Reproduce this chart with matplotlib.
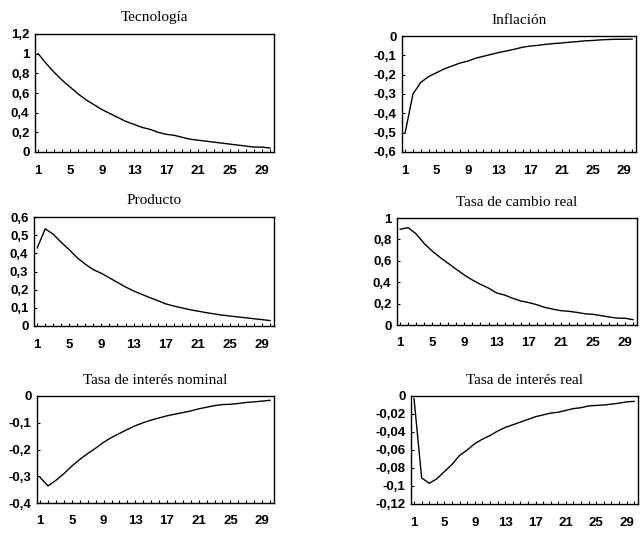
import numpy as np
import matplotlib.pyplot as plt

periods = np.arange(1, 31)

tecnologia = [1.00, 0.90, 0.81, 0.73, 0.66, 0.59, 0.53, 0.48, 0.43, 0.39,
              0.35, 0.31, 0.28, 0.25, 0.23, 0.20, 0.18, 0.17, 0.15, 0.13,
              0.12, 0.11, 0.10, 0.09, 0.08, 0.07, 0.06, 0.05, 0.05, 0.04]
inflacion = [-0.50, -0.30, -0.24, -0.21, -0.19, -0.17, -0.155, -0.14, -0.13, -0.115,
             -0.105, -0.095, -0.085, -0.077, -0.068, -0.058, -0.052, -0.048, -0.043, -0.039,
             -0.036, -0.032, -0.029, -0.025, -0.023, -0.02, -0.018, -0.017, -0.017, -0.016]
producto = [0.43, 0.535, 0.505, 0.46, 0.42, 0.375, 0.34, 0.31, 0.29, 0.265,
            0.24, 0.215, 0.193, 0.175, 0.157, 0.14, 0.122, 0.11, 0.10, 0.09,
            0.082, 0.074, 0.067, 0.06, 0.055, 0.05, 0.045, 0.04, 0.035, 0.03]
tasa_cambio = [0.895, 0.91, 0.85, 0.76, 0.69, 0.63, 0.575, 0.52, 0.466, 0.42,
               0.38, 0.345, 0.30, 0.28, 0.25, 0.225, 0.21, 0.19, 0.165, 0.148,
               0.134, 0.128, 0.118, 0.105, 0.10, 0.088, 0.075, 0.065, 0.063, 0.05]
interes_nominal = [-0.305, -0.336, -0.315, -0.29, -0.262, -0.237, -0.215, -0.195, -0.173, -0.155,
                   -0.14, -0.125, -0.111, -0.10, -0.09, -0.082, -0.074, -0.068, -0.062, -0.056,
                   -0.048, -0.042, -0.036, -0.032, -0.031, -0.028, -0.024, -0.022, -0.019, -0.016]
interes_real = [-0.003, -0.091, -0.097, -0.092, -0.084, -0.076, -0.066, -0.06, -0.053, -0.048,
                -0.044, -0.039, -0.035, -0.032, -0.029, -0.026, -0.023, -0.021, -0.019, -0.018,
                -0.016, -0.014, -0.013, -0.011, -0.0105, -0.01, -0.009, -0.008, -0.0065, -0.006]

titles = ['Tecnología', 'Inflación', 'Producto', 'Tasa de cambio real',
          'Tasa de interés nominal', 'Tasa de interés real']
series = [tecnologia, inflacion, producto, tasa_cambio, interes_nominal, interes_real]

y_ticks = [
    [0, 0.2, 0.4, 0.6, 0.8, 1.0, 1.2],
    [-0.6, -0.5, -0.4, -0.3, -0.2, -0.1, 0],
    [0, 0.1, 0.2, 0.3, 0.4, 0.5, 0.6],
    [0, 0.2, 0.4, 0.6, 0.8, 1.0],
    [-0.4, -0.3, -0.2, -0.1, 0],
    [-0.12, -0.1, -0.08, -0.06, -0.04, -0.02, 0],
]
y_labels = [
    ['0', '0,2', '0,4', '0,6', '0,8', '1', '1,2'],
    ['-0,6', '-0,5', '-0,4', '-0,3', '-0,2', '-0,1', '0'],
    ['0', '0,1', '0,2', '0,3', '0,4', '0,5', '0,6'],
    ['0', '0,2', '0,4', '0,6', '0,8', '1'],
    ['-0,4', '-0,3', '-0,2', '-0,1', '0'],
    ['-0,12', '-0,1', '-0,08', '-0,06', '-0,04', '-0,02', '0'],
]
x_labels = [1, 5, 9, 13, 17, 21, 25, 29]

# axes boxes in pixels: left, top, right, bottom
boxes = [
    (35, 34, 274, 152),
    (402, 36, 636, 152),
    (34, 217, 274, 326),
    (397, 218, 637, 325),
    (37, 396, 274, 503),
    (411, 396, 638, 504),
]

W, H = 640, 534
fig = plt.figure(figsize=(W / 100, H / 100), dpi=100)

for (l, t, r, b), title, y, ticks, labels in zip(boxes, titles, series, y_ticks, y_labels):
    ax = fig.add_axes([l / W, 1 - b / H, (r - l) / W, (b - t) / H])
    ax.plot(periods, y, color='black', lw=1.0)
    ax.set_xlim(0.6, 30.5)
    ax.set_ylim(ticks[0], ticks[-1])
    ax.set_xticks(x_labels)
    ax.set_xticklabels([str(v) for v in x_labels])
    ax.set_xticks(periods, minor=True)
    ax.set_yticks(ticks)
    ax.set_yticklabels(labels)
    ax.tick_params(axis='x', which='both', direction='in', length=2.5, width=0.8,
                   pad=9)
    ax.tick_params(axis='y', direction='in', length=2, width=0.8, pad=4)
    for lab in ax.get_xticklabels() + ax.get_yticklabels():
        lab.set_fontfamily('Liberation Sans')
        lab.set_fontweight('bold')
        lab.set_fontsize(9.5)
    for sp in ax.spines.values():
        sp.set_linewidth(1.0)
    ax.set_title(title, fontfamily='Liberation Serif', fontsize=11, pad=9)

fig.savefig('out.png', dpi=100)
